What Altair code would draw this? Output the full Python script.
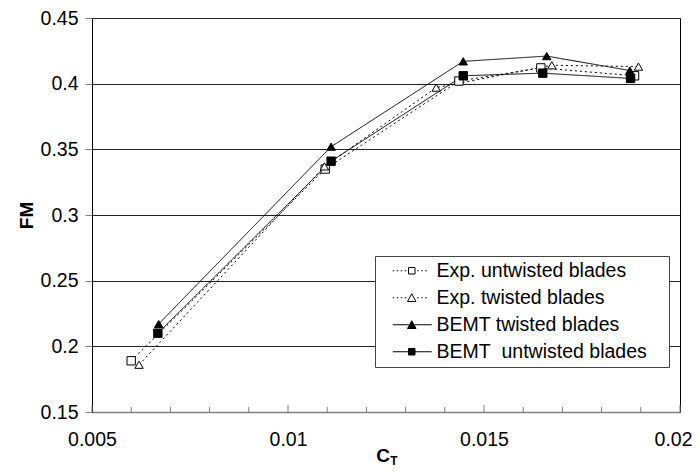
import altair as alt
import pandas as pd

# ---- data ----
series_names = ["Exp. untwisted blades", "Exp. twisted blades",
                "BEMT twisted blades", "BEMT\u00a0 untwisted blades"]

exp_untwisted_ct = [0.0060, 0.01095, 0.01436, 0.01645, 0.01884]
exp_untwisted_fm = [0.189, 0.335, 0.402, 0.412, 0.406]
exp_twisted_ct = [0.0062, 0.01093, 0.01378, 0.01673, 0.01894]
exp_twisted_fm = [0.186, 0.337, 0.397, 0.414, 0.413]
bemt_twisted_ct = [0.0067, 0.0111, 0.01447, 0.0166, 0.01872]
bemt_twisted_fm = [0.217, 0.352, 0.417, 0.421, 0.410]
bemt_untwisted_ct = [0.00668, 0.0111, 0.01447, 0.0165, 0.01874]
bemt_untwisted_fm = [0.210, 0.341, 0.406, 0.408, 0.404]

x_ticks_major = [0.005, 0.01, 0.015, 0.02]
x_ticks_minor = [0.006, 0.007, 0.008, 0.009, 0.011, 0.012, 0.013, 0.014,
                 0.016, 0.017, 0.018, 0.019]
y_ticks = [0.15, 0.2, 0.25, 0.3, 0.35, 0.4, 0.45]

# ---- build table ----
rows = []
for name, cts, fms in zip(series_names,
                          [exp_untwisted_ct, exp_twisted_ct, bemt_twisted_ct, bemt_untwisted_ct],
                          [exp_untwisted_fm, exp_twisted_fm, bemt_twisted_fm, bemt_untwisted_fm]):
    for i, (c, f) in enumerate(zip(cts, fms)):
        rows.append({"series": name, "ct": c, "fm": f, "idx": i})
df = pd.DataFrame(rows)

W, H = 588, 394
FONT = "Liberation Sans"
FS = 19.5

xscale = alt.Scale(domain=[0.005, 0.02], zero=False, nice=False)
yscale = alt.Scale(domain=[0.15, 0.45], zero=False, nice=False)

x_enc = alt.X("ct:Q", scale=xscale,
              axis=alt.Axis(values=x_ticks_major, format="~g", ticks=False,
                            labelPadding=18, labelFlush=False, grid=False, title=None,
                            labelOffset={"condition": {"test": "datum.value >= 0.0199", "value": -7},
                                         "value": 0},
                            domainColor="#808080", domainWidth=1.5))
y_enc = alt.Y("fm:Q", scale=yscale,
              axis=alt.Axis(values=y_ticks, format="~g", tickSize=7,
                            tickColor="#808080", labelPadding=7, grid=True,
                            gridColor="#222222", gridWidth=1, title="FM",
                            titleFontWeight="bold", titleFontSize=19,
                            titlePadding=4, domainColor="#000000"))

# line styles
dash_scale = alt.Scale(domain=series_names,
                       range=[[2, 3], [2, 3], [1, 0], [1, 0]])
lines = alt.Chart(df).mark_line(color="black", strokeWidth=1).encode(
    x=x_enc, y=y_enc,
    detail="series:N",
    order="idx:Q",
    strokeDash=alt.StrokeDash("series:N", scale=dash_scale, legend=None),
)

shape_scale = alt.Scale(domain=series_names,
                        range=["square", "triangle-up", "triangle-up", "square"])
fill_scale = alt.Scale(domain=series_names,
                       range=["white", "white", "black", "black"])

points = alt.Chart(df).mark_point(filled=True, stroke="black", strokeWidth=1,
                                  size=70, opacity=1).encode(
    x=x_enc, y=y_enc,
    shape=alt.Shape("series:N", scale=shape_scale, legend=None),
    fill=alt.Fill("series:N", scale=fill_scale, legend=None),
)

# legend glyphs: line + marker as custom symbol paths (1 unit = 5 px, symbolSize 100)
dots = ("M-3.8,0H-3.5M-3.0,0H-2.7M-2.2,0H-1.9M-1.4,0H-1.1"
        "M1.1,0H1.4M1.9,0H2.2M2.7,0H3.0")
sq = "M-0.65,-0.65H0.65V0.65H-0.65Z"
tri = "M0,-0.8L0.85,0.75L-0.85,0.75Z"
solid_l = "M-3.8,0H-0.6"
solid_r = "M0.6,0H4.0"
right_extent = "M50,0"
legend_shapes = [dots + sq + right_extent, dots + tri + right_extent,
                 solid_l + solid_r + tri + right_extent, solid_l + solid_r + sq + right_extent]

legend_layer = alt.Chart(df).transform_filter("false").mark_point(
    filled=True, stroke="black", strokeWidth=1, opacity=1).encode(
    x=x_enc, y=y_enc,
    shape=alt.Shape("series:N",
                    scale=alt.Scale(domain=series_names, range=legend_shapes),
                    legend=alt.Legend(title=None, orient="none", legendX=283, legendY=238,
                                      symbolSize=100, symbolStrokeWidth=1,
                                      symbolOpacity=1,
                                      symbolOffset=22, labelOffset=15,
                                      labelFont=FONT, labelFontSize=FS,
                                      labelColor="black",
                                      rowPadding=6, padding=5,
                                      strokeColor="#444444", fillColor="white",
                                      labelLimit=400)),
    fill=alt.Fill("series:N", scale=fill_scale, legend=None),
)

major_df = pd.DataFrame({"ct": x_ticks_major})
minor_df = pd.DataFrame({"ct": x_ticks_minor})
major_ticks = alt.Chart(major_df).mark_rule(color="#808080", strokeWidth=1).encode(
    x=alt.X("ct:Q", scale=xscale), y=alt.value(H), y2=alt.value(H - 7))
minor_ticks = alt.Chart(minor_df).mark_rule(color="#808080", strokeWidth=1).encode(
    x=alt.X("ct:Q", scale=xscale), y=alt.value(H), y2=alt.value(H - 5))

title_df = pd.DataFrame({"t": ["C"]})
title_c = alt.Chart(title_df).mark_text(font=FONT, fontSize=19, fontWeight="bold",
                                        align="center", baseline="middle", color="black").encode(
    text="t:N", x=alt.value(W / 2 - 3), y=alt.value(H + 44))
sub_df = pd.DataFrame({"t": ["T"]})
title_t = alt.Chart(sub_df).mark_text(font=FONT, fontSize=12, fontWeight="bold",
                                      align="center", baseline="middle", color="black").encode(
    text="t:N", x=alt.value(W / 2 + 8), y=alt.value(H + 49))

chart = alt.layer(lines, points, legend_layer, major_ticks, minor_ticks, title_c, title_t).resolve_scale(
    shape="independent", fill="independent"
).properties(
    width=W, height=H,
    autosize=alt.AutoSizeParams(type="none"),
    padding={"left": 84, "top": 10, "right": 12, "bottom": 55},
).configure_view(
    stroke="#000000", strokeWidth=1
).configure_axis(
    labelFont=FONT, labelFontSize=FS, labelColor="black",
    titleFont=FONT, titleColor="black",
)

chart.save("out.html", embed_options={"renderer": "svg", "actions": False})
